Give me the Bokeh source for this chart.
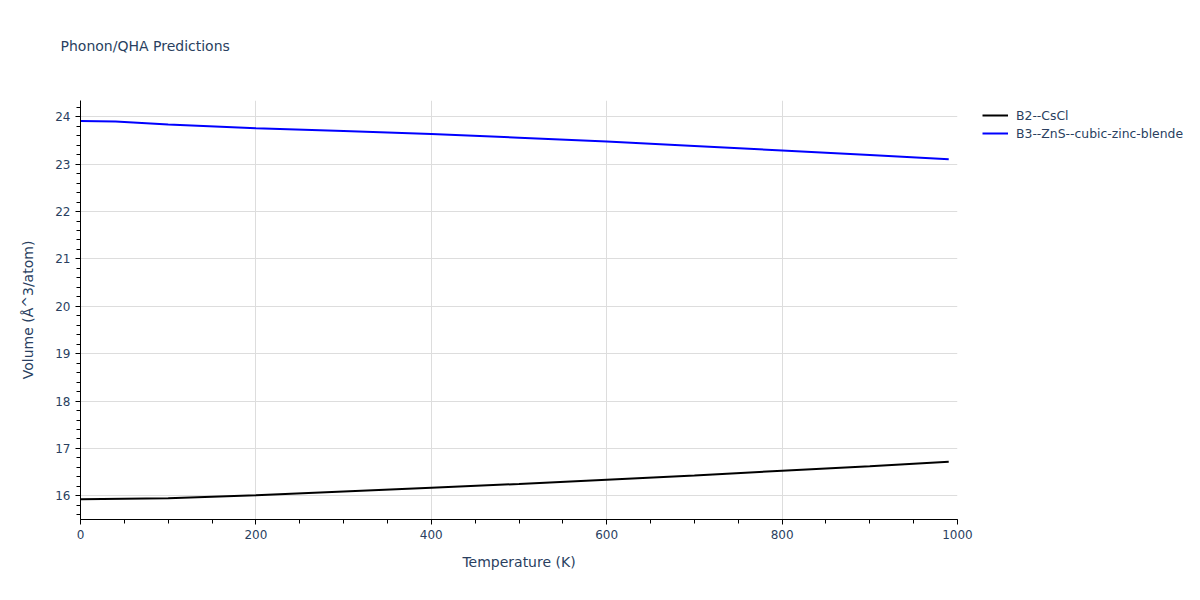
from bokeh.plotting import figure
from bokeh.models import Legend, LegendItem, Range1d, Title
from bokeh.embed import file_html
from bokeh.resources import INLINE

temps_b2 = [0, 100, 200, 300, 400, 500, 600, 700, 800, 900, 990]
vol_b2 = [15.93, 15.948, 16.01, 16.09, 16.17, 16.25, 16.34, 16.43, 16.53, 16.625, 16.72]

temps_b3 = [0, 40, 100, 200, 300, 400, 500, 600, 700, 800, 900, 990]
vol_b3 = [23.91, 23.90, 23.84, 23.76, 23.70, 23.635, 23.56, 23.48, 23.385, 23.29, 23.195, 23.105]

series_names = ["B2--CsCl", "B3--ZnS--cubic-zinc-blende"]
series_colors = ["#000000", "#0000ff"]

TXT = "#2a3f5f"
FONT = "DejaVu Sans"

p = figure(frame_width=877, frame_height=419, output_backend="svg", toolbar_location=None,
           x_range=Range1d(0, 1000), y_range=Range1d(15.5, 24.344),
           min_border_left=80, min_border_top=100, min_border_right=10, min_border_bottom=81)
p.outline_line_color = None
p.background_fill_color = "white"
p.border_fill_color = "white"

spacer = Title(text=" ", text_font=FONT, text_font_size="10px", standoff=0)
p.add_layout(spacer, "above")
t = Title(text="Phonon/QHA Predictions", align="left", offset=-20,
          text_font=FONT, text_font_size="14px", text_font_style="normal",
          text_color=TXT, standoff=67)
p.add_layout(t, "above")

r1 = p.line(temps_b2, vol_b2, line_color=series_colors[0], line_width=2)
r2 = p.line(temps_b3, vol_b3, line_color=series_colors[1], line_width=2)

for ax in (p.xaxis[0], p.yaxis[0]):
    ax.axis_line_color = "black"
    ax.major_tick_line_color = "black"
    ax.minor_tick_line_color = "black"
    ax.major_tick_in = 0
    ax.major_tick_out = 5
    ax.minor_tick_in = 0
    ax.minor_tick_out = 4
    ax.major_label_text_font = FONT
    ax.major_label_text_font_size = "12px"
    ax.major_label_text_color = TXT
    ax.axis_label_text_font = FONT
    ax.axis_label_text_font_size = "14px"
    ax.axis_label_text_color = TXT
    ax.axis_label_text_font_style = "normal"

p.xaxis.axis_label = "Temperature (K)"
p.yaxis.axis_label = "Volume (Å^3/atom)"
p.xaxis.ticker.desired_num_ticks = 6
p.xaxis.ticker.num_minor_ticks = 4
p.yaxis.ticker.desired_num_ticks = 9
p.yaxis.ticker.num_minor_ticks = 5
p.xaxis.axis_label_standoff = 12
p.yaxis.axis_label_standoff = 16

p.xgrid.grid_line_color = "#dddddd"
p.ygrid.grid_line_color = "#dddddd"

legend = Legend(items=[LegendItem(label=series_names[0], renderers=[r1]),
                       LegendItem(label=series_names[1], renderers=[r2])],
                location=(25, 377), padding=0, margin=0, spacing=0,
                glyph_width=26, glyph_height=18, label_height=18,
                label_standoff=8, label_text_font=FONT, label_text_font_size="12.4px",
                label_text_color=TXT, border_line_color=None, background_fill_alpha=0)
p.add_layout(legend, "right")

open("out.html", "w").write(file_html(p, INLINE))
